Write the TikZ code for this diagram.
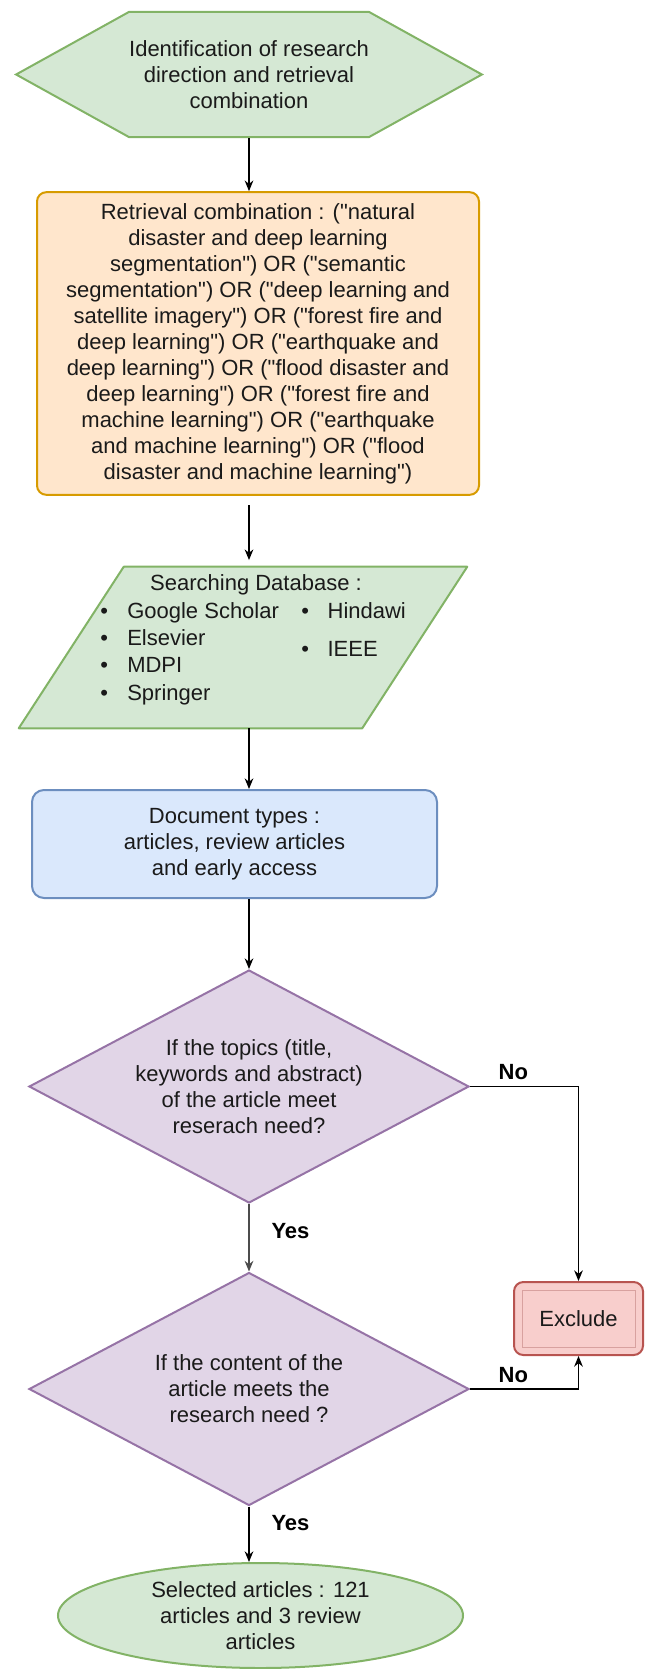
\documentclass[tikz,border=0pt]{standalone}
\usepackage{fontspec}
\setmainfont{Liberation Sans}
\usepackage{xcolor}
\definecolor{fcgreen}{HTML}{82B366}
\definecolor{fcgreenbg}{HTML}{D5E8D4}
\definecolor{fcorange}{HTML}{D79B00}
\definecolor{fcorangebg}{HTML}{FFE6CC}
\definecolor{fcblue}{HTML}{6C8EBF}
\definecolor{fcbluebg}{HTML}{DAE8FC}
\definecolor{fcpurple}{HTML}{9673A6}
\definecolor{fcpurplebg}{HTML}{E1D5E7}
\definecolor{fcred}{HTML}{B85450}
\definecolor{fcredbg}{HTML}{F8CECC}
\definecolor{fctext}{HTML}{1A1A1A}
\usepackage{tikz}
\usetikzlibrary{arrows.meta, shapes.geometric, shapes.symbols}

\begin{document}
\begin{tikzpicture}[x=0.75pt, y=-0.75pt,
  font=\fontsize{16.5}{19.5}\selectfont, text=fctext,
  startbox/.style={signal, signal to=west and east, signal pointer angle=58,
    draw=fcgreen, fill=fcgreenbg, line width=1.5pt, inner sep=0pt,
    minimum width=348pt, minimum height=94pt, align=center},
  querybox/.style={rectangle, rounded corners=7pt, draw=fcorange, fill=fcorangebg,
    line width=1.5pt, minimum width=331.5pt, minimum height=227pt, align=center},
  dbframe/.style={rectangle, inner sep=0pt, minimum width=336pt, minimum height=120.75pt},
  dbline/.style={draw=fcgreen, fill=fcgreenbg, line width=1.5pt, line join=round},
  dblist/.style={anchor=base west, inner sep=0pt, align=left},
  typebox/.style={rectangle, rounded corners=9pt, draw=fcblue, fill=fcbluebg,
    line width=1.5pt, minimum width=303.75pt, minimum height=81pt, align=center},
  decision/.style={diamond, aspect=1.89, draw=fcpurple, fill=fcpurplebg,
    line width=1.5pt, inner sep=0pt, minimum width=330pt, minimum height=174.75pt,
    align=center},
  excludebox/.style={rectangle, rounded corners=7pt, draw=fcred, fill=fcredbg,
    line width=1.5pt, minimum width=96.75pt, minimum height=54.75pt},
  endshape/.style={ellipse, draw=fcgreen, fill=fcgreenbg, line width=1.5pt,
    inner sep=0pt, minimum width=303.75pt, minimum height=78.75pt, align=center},
  arr/.style={-{Stealth[length=8pt, width=6.5pt]}, line width=1.1pt, black},
  lbl/.style={font=\fontsize{16.5}{19.5}\selectfont\bfseries, text=black}]

  \useasboundingbox (0,0) rectangle (648,1669);
  \coordinate (col) at (249,0);

  % Start -- research direction
  \node[startbox] (ident) at (249,74.5)
       {Identification of research\\direction and retrieval\\combination};

  % Retrieval combination
  \node[querybox] (query) at (258,343.5)
       {Retrieval combination : (\textquotedbl natural\\
        disaster and deep learning\\
        segmentation\textquotedbl) OR (\textquotedbl semantic\\
        segmentation\textquotedbl) OR (\textquotedbl deep learning and\\
        satellite imagery\textquotedbl) OR (\textquotedbl forest fire and\\
        deep learning\textquotedbl) OR (\textquotedbl earthquake and\\
        deep learning\textquotedbl) OR (\textquotedbl flood disaster and\\
        deep learning\textquotedbl) OR (\textquotedbl forest fire and\\
        machine learning\textquotedbl) OR (\textquotedbl earthquake\\
        and machine learning\textquotedbl) OR (\textquotedbl flood\\
        disaster and machine learning\textquotedbl)};

  % Databases (parallelogram)
  \node[dbframe] (db) at (243,647.5) {};
  \draw[dbline] ([xshift=78.75pt]db.north west) -- (db.north east)
       -- ([xshift=-78.75pt]db.south east) -- (db.south west) -- cycle;
  \node (dbtitle) at (256,585) {Searching Database :};
  \node[dblist, font=\fontsize{16.5}{20.5}\selectfont] (dbleft) at (100,700)
       {\textbullet\hspace{14.5pt}Google Scholar\\
        \textbullet\hspace{14.5pt}Elsevier\\
        \textbullet\hspace{14.5pt}MDPI\\
        \textbullet\hspace{14.5pt}Springer};
  \node[dblist, font=\fontsize{16.5}{28.5}\selectfont] (dbright) at (301,656)
       {\textbullet\hspace{14pt}Hindawi\\
        \textbullet\hspace{14pt}IEEE};

  % Document types
  \node[typebox] (types) at (234.5,844)
       {Document types :\\articles, review articles\\and early access};

  % Screening
  \node[decision] (topics) at (249,1086.5)
       {If the topics (title,\\keywords and abstract)\\of the article meet\\reserach need?};
  \node[decision] (content) at (249,1389)
       {If the content of the\\article meets the\\research need ?};

  % Exclude
  \node[excludebox] (excl) at (578.5,1318.5) {Exclude};
  \draw[fcred!55, line width=0.6pt] ([shift={(9,9)}]excl.north west)
       rectangle ([shift={(-9,-9)}]excl.south east);

  % Result
  \node[endshape] (sel) at (260.5,1615.5)
       {Selected articles : 121\\articles and 3 review\\articles};

  % Connectors
  \draw[arr] (ident.south) -- (ident.south |- query.north);
  \draw[arr, shorten <=7pt, shorten >=5pt] (query.south -| col) -- (db.north -| col);
  \draw[arr] (db.south -| col) -- (types.north -| col);
  \draw[arr] (types.south -| col) -- (topics.north);
  \draw[arr, black!70] (topics.south) -- (content.north)
       node[lbl, pos=0.4, right=13pt] {Yes};
  \draw[arr] (content.south) -- (content.south |- sel.north)
       node[lbl, pos=0.3, right=13pt] {Yes};
  \draw[arr] (topics.east) -| (excl.north)
       node[lbl, pos=0.2, above=1pt] {No};
  \draw[arr] (content.east) -| (excl.south)
       node[lbl, pos=0.2, above=1pt] {No};
\end{tikzpicture}
\end{document}
